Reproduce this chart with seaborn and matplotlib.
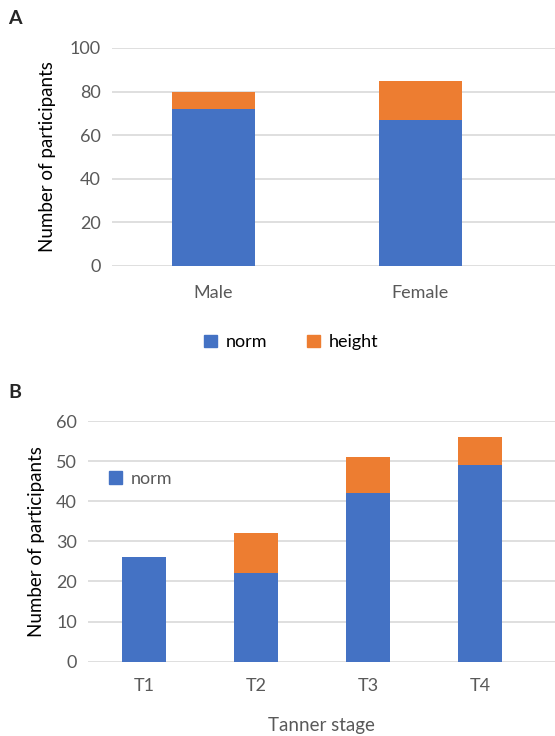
import matplotlib
matplotlib.use("Agg")
import matplotlib.pyplot as plt
import seaborn as sns
import pandas as pd
from matplotlib.patches import Patch

# Data
sex_categories = ["Male", "Female"]
sex_norm = [72, 67]
sex_height = [8, 18]

tanner_categories = ["T1", "T2", "T3", "T4"]
tanner_norm = [26, 22, 42, 49]
tanner_height = [0, 10, 9, 7]

BLUE = "#4472C4"
ORANGE = "#ED7D31"
GRID = "#D9D9D9"
TXT = "#595959"

sns.set_style("white")
plt.rcParams["font.family"] = ["Lato", "DejaVu Sans"]

fig = plt.figure(figsize=(5.55, 7.36), dpi=100)

def style(ax, ymax, step):
    ax.set_ylim(0, ymax)
    ax.set_yticks(range(0, ymax + 1, step))
    for s in ax.spines.values():
        s.set_visible(False)
    ax.yaxis.grid(True, color=GRID, linewidth=1.2)
    ax.set_axisbelow(True)
    ax.tick_params(axis="both", length=0, labelsize=13, colors=TXT, pad=8)
    ax.set_xlabel("")

bar_kw = dict(saturation=1, linewidth=0, edgecolor="none")

# Panel A
dfA = pd.DataFrame({"cat": sex_categories, "norm": sex_norm, "height": sex_height})
dfA["total"] = dfA["norm"] + dfA["height"]
axA = fig.add_axes([112/555, 1-266/736, 1-112/555, (266-48)/736])
sns.barplot(data=dfA, x="cat", y="total", color=ORANGE, width=0.4, ax=axA, **bar_kw)
sns.barplot(data=dfA, x="cat", y="norm", color=BLUE, width=0.4, ax=axA, **bar_kw)
style(axA, 100, 20)
axA.set_xlim(-0.49, 1.65)
axA.set_ylabel("Number of participants", fontsize=13.5, color="black", labelpad=10)
axA.tick_params(axis="x", pad=14)
axA.legend(handles=[Patch(color=BLUE, label="norm"), Patch(color=ORANGE, label="height")],
           loc="center", bbox_to_anchor=(0.405, -0.35), ncol=2, frameon=False,
           fontsize=13, handlelength=0.7, handleheight=0.7, columnspacing=2.2,
           handletextpad=0.5, labelcolor="black")
fig.text(8/555, 1-18/736, "A", fontsize=14, fontweight="bold", va="center", ha="left")

# Panel B
dfB = pd.DataFrame({"cat": tanner_categories, "norm": tanner_norm, "height": tanner_height})
dfB["total"] = dfB["norm"] + dfB["height"]
axB = fig.add_axes([88/555, 1-661.7/736, 1-88/555, (661.7-421)/736])
sns.barplot(data=dfB, x="cat", y="total", color=ORANGE, width=0.39, ax=axB, **bar_kw)
sns.barplot(data=dfB, x="cat", y="norm", color=BLUE, width=0.39, ax=axB, **bar_kw)
style(axB, 60, 10)
axB.set_xlim(-0.5, 3.67)
axB.set_ylabel("Number of participants", fontsize=13.5, color="black", labelpad=8)
axB.set_xlabel("Tanner stage", fontsize=13.5, color=TXT, labelpad=16)
axB.tick_params(axis="x", pad=12)
axB.legend(handles=[Patch(color=BLUE, label="norm")], loc="center left",
           bbox_to_anchor=(0.01, 0.76), frameon=False, fontsize=13,
           handlelength=0.7, handleheight=0.7, handletextpad=0.5, labelcolor=TXT)
fig.text(8/555, 1-392/736, "B", fontsize=14, fontweight="bold", va="center", ha="left")

fig.savefig("out.png", dpi=100)
